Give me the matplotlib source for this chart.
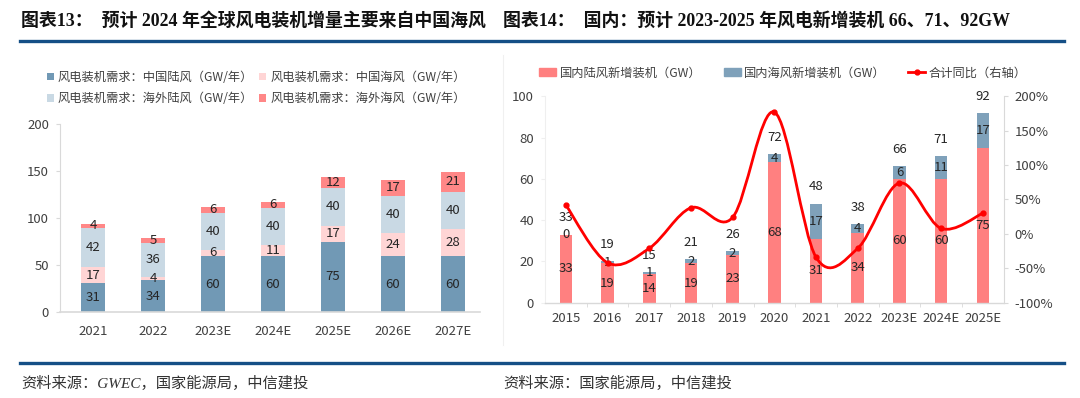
import matplotlib
matplotlib.use("Agg")
import matplotlib.pyplot as plt
from matplotlib.path import Path
from matplotlib.patches import PathPatch
from matplotlib.lines import Line2D
from matplotlib.patches import Patch

plt.rcParams['font.family'] = ['Noto Sans CJK SC', 'DejaVu Sans']

# ---- left chart data (GW/year) ----
years_l = ['2021', '2022', '2023E', '2024E', '2025E', '2026E', '2027E']
cn_onshore = [31, 34, 60, 60, 75, 60, 60]
cn_offshore = [17, 4, 6, 11, 17, 24, 28]
os_onshore = [42, 36, 40, 40, 40, 40, 40]
os_offshore = [4, 5, 6, 6, 12, 17, 21]
names_l = ['风电装机需求：中国陆风（GW/年）', '风电装机需求：中国海风（GW/年）',
           '风电装机需求：海外陆风（GW/年）', '风电装机需求：海外海风（GW/年）']

# ---- right chart data ----
years_r = ['2015', '2016', '2017', '2018', '2019', '2020', '2021', '2022', '2023E', '2024E', '2025E']
dom_onshore = [33, 19, 14, 19, 23, 68, 31, 34, 60, 60, 75]
dom_offshore = [0, 1, 1, 2, 2, 4, 17, 4, 6, 11, 17]
dom_total = [33, 19, 15, 21, 26, 72, 48, 38, 66, 71, 92]
yoy = [42, -42, -21, 38, 24, 177, -34, -21, 74, 8, 30]

c_l = ['#7199b5', '#ffd5d5', '#c9d9e4', '#ff8787']
c_r_on, c_r_off, c_line = '#ff8080', '#7fa1ba', '#ff0000'
txt = '#262626'
tick_c = '#404040'
spine_c = '#d9d9d9'
navy = '#154f86'

W, H = 1080, 398
fig = plt.figure(figsize=(W / 100, H / 100), dpi=100)


def fx(px):
    return px / W


def fy(py):
    return 1 - py / H


# titles and rules
serif_cjk = ['Liberation Serif', 'Noto Sans CJK SC']
fig.text(fx(21), fy(21), '图表13：  预计 2024 年全球风电装机增量主要来自中国海风',
         family=serif_cjk, weight='bold', fontsize=12.9, va='center', color='#111111')
fig.text(fx(503), fy(21), '图表14：  国内：预计 2023-2025 年风电新增装机 66、71、92GW',
         family=serif_cjk, weight='bold', fontsize=12.9, va='center', color='#111111')
fig.add_artist(Line2D([fx(20), fx(1064)], [fy(41), fy(41)], color=navy, lw=2.4))
fig.add_artist(Line2D([fx(20), fx(1064)], [fy(362.5), fy(362.5)], color=navy, lw=2.4))
fig.add_artist(Line2D([fx(503), fx(503)], [fy(55), fy(345)], color='#f0f0f0', lw=0.8))
fig.text(fx(21), fy(383), '资料来源：GWEC，国家能源局，中信建投', family=serif_cjk,
         style='italic', fontsize=11, va='center', color='#333333')
fig.text(fx(503), fy(383), '资料来源：国家能源局，中信建投', family=serif_cjk,
         style='italic', fontsize=11, va='center', color='#333333')

# ---------------- left chart ----------------
ax = fig.add_axes([fx(60), fy(312.3), fx(420), (312.3 - 124) / H])
x = list(range(len(years_l)))
series = [cn_onshore, cn_offshore, os_onshore, os_offshore]
bottom = [0] * len(x)
bars = []
for vals, col, name in zip(series, c_l, names_l):
    bars.append(ax.bar(x, vals, 0.4, bottom=bottom, color=col, label=name, zorder=2))
    for xi, b, v in zip(x, bottom, vals):
        ax.text(xi, b + v / 2, str(v), ha='center', va='center', fontsize=9.5, color=txt, zorder=3)
    bottom = [b + v for b, v in zip(bottom, vals)]

ax.set_xlim(-0.55, 6.45)
ax.set_ylim(0, 200)
ax.set_yticks([0, 50, 100, 150, 200])
ax.set_xticks(x)
ax.set_xticklabels(years_l)
for s in ['top', 'right']:
    ax.spines[s].set_visible(False)
ax.spines['left'].set_color(spine_c)
ax.spines['bottom'].set_color(spine_c)
ax.spines['bottom'].set_linewidth(1.2)
ax.tick_params(axis='y', length=3, color=spine_c, labelsize=9.5, labelcolor=tick_c, pad=5)
ax.tick_params(axis='x', length=0, labelsize=9.5, labelcolor=tick_c, pad=9)

# legend filled column-wise, so reorder to get the row layout of the original
order = [0, 2, 1, 3]
ax.legend([bars[i] for i in order], [names_l[i] for i in order], loc='center',
          bbox_to_anchor=(fx(256), fy(88)), bbox_transform=fig.transFigure,
          ncol=2, frameon=False, fontsize=8.8, handlelength=0.6, handleheight=0.6,
          handletextpad=0.3, columnspacing=0.5, labelspacing=0.7, labelcolor=tick_c)

# ---------------- right chart ----------------
ax1 = fig.add_axes([fx(545), fy(302.7), fx(458.7), (302.7 - 96.3) / H])
xr = list(range(len(years_r)))
ax1.bar(xr, dom_onshore, 0.3, color=c_r_on, zorder=2)
ax1.bar(xr, dom_offshore, 0.3, bottom=dom_onshore, color=c_r_off, zorder=2)
for xi, a, b, t in zip(xr, dom_onshore, dom_offshore, dom_total):
    ax1.text(xi, a / 2, str(a), ha='center', va='center', fontsize=9.5, color=txt, zorder=3)
    ax1.text(xi, a + b / 2, str(b), ha='center', va='center', fontsize=9.5, color=txt, zorder=3)
    ax1.annotate(str(t), (xi, a + b), xytext=(0, 12), textcoords='offset points',
                 ha='center', va='center', fontsize=9.5, color=txt)

ax1.set_xlim(-0.5, 10.5)
ax1.set_ylim(0, 100)
ax1.set_yticks(range(0, 101, 20))
ax1.set_xticks(xr)
ax1.set_xticklabels(years_r)
ax1.set_xticks([i + 0.5 for i in xr[:-1]], minor=True)
for s in ['top', 'right']:
    ax1.spines[s].set_visible(False)
ax1.spines['left'].set_color('#efefef')
ax1.spines['bottom'].set_color(spine_c)
ax1.spines['bottom'].set_linewidth(1.0)
ax1.tick_params(axis='y', length=3, color='#efefef', labelsize=9.5, labelcolor=tick_c, pad=5)
ax1.tick_params(axis='x', which='major', length=0, labelsize=9.5, labelcolor=tick_c, pad=7)
ax1.tick_params(axis='x', which='minor', length=3, color=spine_c)

ax2 = ax1.twinx()
ax2.set_ylim(-100, 200)
ax2.set_yticks(range(-100, 201, 50))
ax2.set_yticklabels([f'{v}%' for v in range(-100, 201, 50)])
for s in ['top', 'left', 'bottom']:
    ax2.spines[s].set_visible(False)
ax2.spines['right'].set_color(spine_c)
ax2.tick_params(axis='y', length=3, color=spine_c, labelsize=9.5, labelcolor=tick_c, pad=5)

# smoothed line (Excel style Catmull-Rom bezier through the points)
pts = list(zip(xr, yoy))
verts = [pts[0]]
codes = [Path.MOVETO]
n = len(pts)
for i in range(n - 1):
    p0 = pts[i - 1] if i > 0 else pts[i]
    p1 = pts[i]
    p2 = pts[i + 1]
    p3 = pts[i + 2] if i + 2 < n else pts[i + 1]
    c1 = (p1[0] + (p2[0] - p0[0]) / 6, p1[1] + (p2[1] - p0[1]) / 6)
    c2 = (p2[0] - (p3[0] - p1[0]) / 6, p2[1] - (p3[1] - p1[1]) / 6)
    verts += [c1, c2, p2]
    codes += [Path.CURVE4] * 3
ax2.add_patch(PathPatch(Path(verts, codes), fill=False, edgecolor=c_line, lw=2, zorder=4))
ax2.plot(xr, yoy, 'o', color=c_line, ms=3.5, zorder=5)

handles = [Patch(color=c_r_on), Patch(color=c_r_off),
           Line2D([], [], color=c_line, lw=2, marker='o', ms=3.5)]
labels = ['国内陆风新增装机（GW）', '国内海风新增装机（GW）', '合计同比（右轴）']
ax1.legend(handles, labels, loc='center', bbox_to_anchor=(fx(783), fy(73)),
           bbox_transform=fig.transFigure, ncol=3, frameon=False, fontsize=8.8,
           handlelength=1.4, handleheight=0.6, handletextpad=0.3, columnspacing=1.8,
           labelcolor=tick_c)

fig.savefig('out.png', dpi=100, facecolor='white')
